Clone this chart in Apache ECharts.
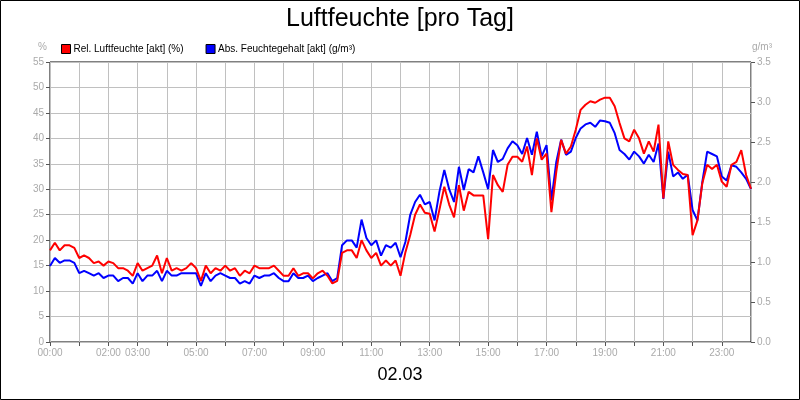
<!DOCTYPE html>
<html>
<head>
<meta charset="utf-8">
<script src="https://cdn.jsdelivr.net/npm/echarts@6/dist/echarts.min.js"></script>
<style>html,body{margin:0;padding:0;background:#fff}#chart{width:800px;height:400px}</style>
</head>
<body>
<div id="chart"></div>
<script>
// 10-minute samples from 00:00 to 24:00
var relHum = [
  18, 19.5, 18, 19, 19, 18.5, 16.5, 17, 16.5, 15.5, 15.8, 15,
  15.8, 15.5, 14.5, 14.5, 14, 13, 15.5, 14, 14.5, 15, 17, 13.5,
  16.5, 14, 14.5, 14, 14.5, 15.5, 14.5, 12, 15, 13.5, 14.5, 14,
  15, 14, 14.5, 13, 14, 13.5, 15, 14.5, 14.5, 14.5, 15, 14,
  13, 13, 14.5, 13, 13.5, 13.5, 12.5, 13.5, 14, 13, 11.5, 12,
  17.5, 18, 18, 16.5, 20, 18, 16.5, 17.5, 15, 16, 15, 16,
  13, 17.6, 21, 25, 27, 25.4, 25.2, 21.7, 26, 30.5, 27, 24.5,
  30.8, 25.8, 29.5, 28.8, 28.8, 28.8, 20.2, 32.8, 30.8, 29.5, 34.8, 36.4,
  36.4, 35.4, 38.4, 32.8, 40, 35.8, 37, 25.5, 33.4, 39.7, 37, 38.4,
  41.7, 45.6, 46.6, 47.3, 47, 47.6, 48, 48, 46.3, 43, 40, 39.4,
  41.7, 40, 37, 39.4, 37.4, 42.7, 28.2, 39.4, 34.8, 33.8, 33, 32.8,
  21, 23.9, 31.2, 34.8, 34, 34.8, 31.5, 30.5, 34.8, 35.4, 37.7, 32.8,
  30.1
];
var absHum = [
  0.95, 1.05, 0.99, 1.02, 1.02, 0.99, 0.86, 0.89, 0.86, 0.83, 0.86, 0.80,
  0.83, 0.83, 0.76, 0.80, 0.80, 0.73, 0.86, 0.76, 0.83, 0.83, 0.89, 0.76,
  0.89, 0.83, 0.83, 0.86, 0.86, 0.86, 0.86, 0.70, 0.86, 0.76, 0.83, 0.86,
  0.83, 0.80, 0.80, 0.73, 0.76, 0.73, 0.83, 0.80, 0.83, 0.83, 0.86, 0.80,
  0.76, 0.76, 0.86, 0.80, 0.80, 0.83, 0.76, 0.80, 0.83, 0.86, 0.76, 0.80,
  1.21, 1.27, 1.27, 1.18, 1.53, 1.30, 1.21, 1.27, 1.08, 1.21, 1.18, 1.24,
  1.06, 1.25, 1.59, 1.75, 1.84, 1.72, 1.75, 1.52, 1.88, 2.15, 1.91, 1.75,
  2.19, 1.90, 2.16, 2.12, 2.32, 2.12, 1.91, 2.40, 2.25, 2.29, 2.42, 2.51,
  2.46, 2.35, 2.55, 2.34, 2.63, 2.32, 2.46, 1.77, 2.25, 2.53, 2.34, 2.38,
  2.55, 2.67, 2.72, 2.74, 2.69, 2.77, 2.76, 2.74, 2.61, 2.40, 2.35, 2.28,
  2.38, 2.32, 2.23, 2.34, 2.25, 2.48, 1.79, 2.38, 2.07, 2.12, 2.04, 2.09,
  1.65, 1.52, 2.00, 2.38, 2.35, 2.32, 2.07, 2.02, 2.21, 2.19, 2.12, 2.04,
  1.91
];
var shownHours = [0, 2, 3, 5, 7, 9, 11, 13, 15, 17, 19, 21, 23];

function pairs(arr) {
    return arr.map(function (v, i) { return [i / 6, v]; });
}

var myChart = echarts.init(document.getElementById('chart'));
var gray = '#aaaaaa';
var font = 'Liberation Sans, Arial, sans-serif';
myChart.setOption({
    animation: false,
    backgroundColor: '#fff',
    textStyle: { fontFamily: font },
    title: {
        text: 'Luftfeuchte [pro Tag]',
        left: 'center', top: 2,
        textStyle: { fontSize: 25, fontWeight: 'normal', color: '#000', fontFamily: font }
    },
    legend: {
        left: 56, top: 39, itemGap: 22, itemWidth: 9, itemHeight: 9, icon: 'rect',
        textStyle: { fontSize: 10, color: '#000', padding: [0, 0, 0, -2] },
        data: [
            { name: 'Rel. Luftfeuchte [akt] (%)', itemStyle: { color: '#ff0000', borderColor: '#000', borderWidth: 1 } },
            { name: 'Abs. Feuchtegehalt [akt] (g/m³)', itemStyle: { color: '#0000ff', borderColor: '#000', borderWidth: 1 } }
        ]
    },
    graphic: [
        { type: 'rect', shape: { x: 0.5, y: 0.5, width: 799, height: 399 }, style: { fill: 'none', stroke: '#000', lineWidth: 1 } },
        { type: 'text', left: 38, top: 42, style: { text: '%', fontSize: 10, fill: gray, fontFamily: font } },
        { type: 'text', right: 28, top: 42, style: { text: 'g/m³', fontSize: 10, fill: gray, fontFamily: font } },
        { type: 'text', left: 'center', top: 366, style: { text: '02.03', fontSize: 18, fill: '#000', fontFamily: font } }
    ],
    grid: { left: 50, right: 49, top: 62, bottom: 58, show: true, borderColor: '#000', borderWidth: 1 },
    xAxis: {
        type: 'value', min: 0, max: 24, interval: 1,
        axisLine: { show: false },
        axisTick: { show: true, lineStyle: { color: '#555' }, length: 4 },
        splitLine: { lineStyle: { color: '#c0c0c0' } },
        axisLabel: {
            fontSize: 10, color: gray, margin: 6, showMaxLabel: false,
            formatter: function (v) {
                return shownHours.indexOf(v) >= 0 ? (v < 10 ? '0' : '') + v + ':00' : '';
            }
        }
    },
    yAxis: [
        {
            type: 'value', min: 0, max: 55, interval: 5,
            axisLine: { show: false }, axisTick: { show: true, length: 4, lineStyle: { color: '#555' } },
            splitLine: { lineStyle: { color: '#c0c0c0' } },
            axisLabel: { fontSize: 10, color: gray, margin: 6 }
        },
        {
            type: 'value', min: 0, max: 3.5, interval: 0.5, position: 'right',
            axisLine: { show: false }, axisTick: { show: true, length: 4, inside: false, lineStyle: { color: '#555' } },
            splitLine: { show: false },
            axisLabel: { fontSize: 10, color: gray, margin: 6, formatter: function (v) { return v.toFixed(1); } }
        }
    ],
    series: [
        {
            name: 'Rel. Luftfeuchte [akt] (%)', type: 'line', yAxisIndex: 0,
            data: pairs(relHum), showSymbol: false, z: 3,
            lineStyle: { color: '#ff0000', width: 2 }, itemStyle: { color: '#ff0000' }
        },
        {
            name: 'Abs. Feuchtegehalt [akt] (g/m³)', type: 'line', yAxisIndex: 1,
            data: pairs(absHum), showSymbol: false, z: 2,
            lineStyle: { color: '#0000ff', width: 2 }, itemStyle: { color: '#0000ff' }
        }
    ]
});
</script>
</body>
</html>
